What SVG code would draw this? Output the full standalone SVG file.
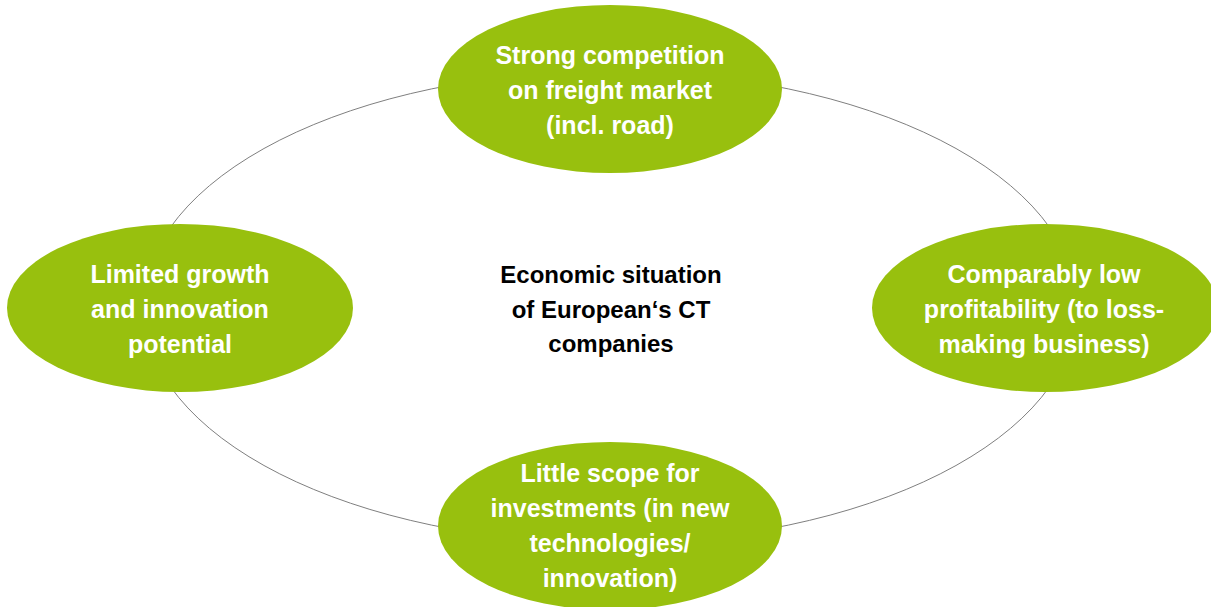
<svg xmlns="http://www.w3.org/2000/svg" width="1211" height="607" viewBox="0 0 1211 607">
<style>
.node{fill:#98C00E;}
.lbl{font-family:"Liberation Sans",Arial,sans-serif;font-weight:bold;font-size:25px;fill:#ffffff;text-anchor:middle;}
.ctr{font-family:"Liberation Sans",Arial,sans-serif;font-weight:bold;font-size:24px;fill:#000000;text-anchor:middle;}
.ring{fill:none;stroke:#7f7f7f;stroke-width:1;}
</style>
<rect width="1211" height="607" fill="#ffffff"/>
<g id="connectors">
<ellipse class="ring" cx="610" cy="307" rx="467" ry="236"/>
</g>
<g id="center">
<text class="ctr" x="611" y="283">Economic situation</text>
<text class="ctr" x="611" y="318">of European‘s CT</text>
<text class="ctr" x="611" y="352">companies</text>
</g>
<g id="top">
<ellipse class="node" cx="610" cy="89" rx="172" ry="84"/>
<text class="lbl" x="610" y="64">Strong competition</text>
<text class="lbl" x="610" y="99">on freight market</text>
<text class="lbl" x="610" y="134">(incl. road)</text>
</g>
<g id="left">
<ellipse class="node" cx="180" cy="308" rx="173" ry="84"/>
<text class="lbl" x="180" y="283">Limited growth</text>
<text class="lbl" x="180" y="318">and innovation</text>
<text class="lbl" x="180" y="353">potential</text>
</g>
<g id="right">
<ellipse class="node" cx="1045" cy="308" rx="173" ry="84"/>
<text class="lbl" x="1044" y="283">Comparably low</text>
<text class="lbl" x="1044" y="318">profitability (to loss-</text>
<text class="lbl" x="1044" y="353">making business)</text>
</g>
<g id="bottom">
<ellipse class="node" cx="610" cy="526" rx="172" ry="84"/>
<text class="lbl" x="610" y="482">Little scope for</text>
<text class="lbl" x="610" y="517">investments (in new</text>
<text class="lbl" x="610" y="552">technologies/</text>
<text class="lbl" x="610" y="587">innovation)</text>
</g>
</svg>
